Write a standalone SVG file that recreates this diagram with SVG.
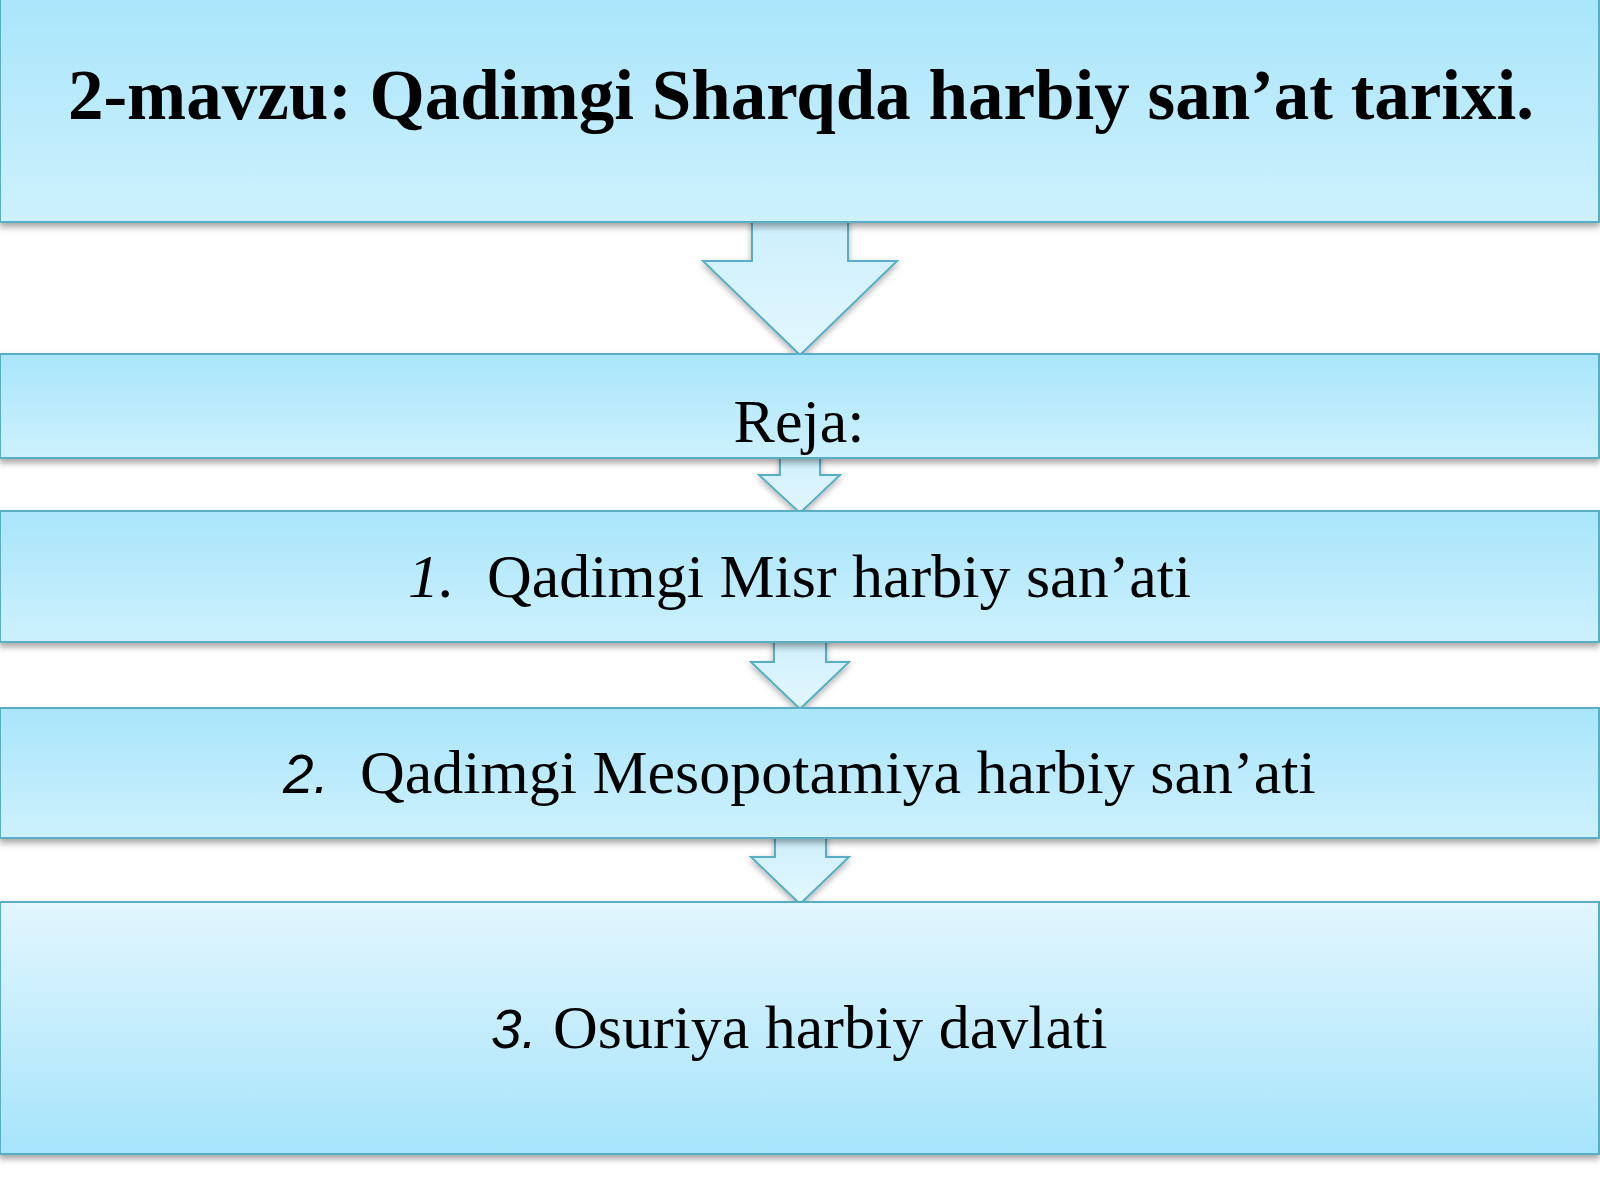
<svg xmlns="http://www.w3.org/2000/svg" width="1600" height="1200" viewBox="0 0 1600 1200">
<defs>
<linearGradient id="gBox" x1="0" y1="0" x2="0" y2="1">
<stop offset="0" stop-color="#a9e5fb"/>
<stop offset="1" stop-color="#cdf1fd"/>
</linearGradient>
<linearGradient id="gBoxRev" x1="0" y1="0" x2="0" y2="1">
<stop offset="0" stop-color="#e2f6fe"/>
<stop offset="1" stop-color="#a6e4fb"/>
</linearGradient>
<linearGradient id="gArrow" x1="0" y1="0" x2="0" y2="1">
<stop offset="0" stop-color="#c9eefc"/>
<stop offset="1" stop-color="#e3f7fe"/>
</linearGradient>
<filter id="sh" x="-5%" y="-20%" width="110%" height="150%">
<feDropShadow dx="0" dy="4" stdDeviation="3" flood-color="#000" flood-opacity="0.35"/>
</filter>
<filter id="shA" x="-30%" y="-20%" width="160%" height="150%">
<feDropShadow dx="0" dy="3" stdDeviation="3" flood-color="#000" flood-opacity="0.3"/>
</filter>
</defs>
<style>
.box{fill:url(#gBox);stroke:#5aaec4;stroke-width:2;filter:url(#sh)}
.boxr{fill:url(#gBoxRev);stroke:#5aaec4;stroke-width:2;filter:url(#sh)}
.arr{fill:url(#gArrow);stroke:#5aaec4;stroke-width:2;stroke-linejoin:miter;filter:url(#shA)}
.t{font-family:"Liberation Serif","Times New Roman",serif;fill:#000}
.c{text-anchor:middle}
.num1{font-family:"Liberation Serif","Times New Roman",serif;font-style:italic}
.nums{font-family:"Liberation Sans",Arial,sans-serif;font-style:italic;font-size:55px}
</style>
<rect width="1600" height="1200" fill="#ffffff"/>
<g id="connectors">
<path class="arr" d="M752,200 L848,200 L848,261 L897,261 L800,355 L703,261 L752,261 Z"/>
<path class="arr" d="M780,440 L820,440 L820,475 L840,475 L800,513 L759,475 L780,475 Z"/>
<path class="arr" d="M774,620 L826,620 L826,662 L849,662 L800,709 L751,662 L774,662 Z"/>
<path class="arr" d="M775,820 L826,820 L826,857 L849,857 L800,904 L751,857 L775,857 Z"/>
</g>
<g id="node-title">
<rect class="box" x="0" y="-4" width="1599" height="226"/>
<text class="t c" x="801" y="119" font-size="71" font-weight="bold">2-mavzu: Qadimgi Sharqda harbiy san’at tarixi.</text>
</g>
<g id="node-reja">
<rect class="box" x="0" y="354" width="1599" height="104"/>
<text class="t c" x="799" y="442" font-size="62">Reja:</text>
</g>
<g id="node-1">
<rect class="box" x="0" y="511" width="1599" height="131"/>
<text class="t" y="597" font-size="62"><tspan class="num1" x="408">1.</tspan><tspan x="487">Qadimgi Misr harbiy san’ati</tspan></text>
</g>
<g id="node-2">
<rect class="box" x="0" y="708" width="1599" height="130"/>
<text class="t" y="793" font-size="62"><tspan class="nums" x="283">2.</tspan><tspan x="360">Qadimgi Mesopotamiya harbiy san’ati</tspan></text>
</g>
<g id="node-3">
<rect class="boxr" x="0" y="902" width="1599" height="252"/>
<text class="t" y="1048" font-size="62"><tspan class="nums" x="491">3.</tspan><tspan x="553">Osuriya harbiy davlati</tspan></text>
</g>
</svg>
